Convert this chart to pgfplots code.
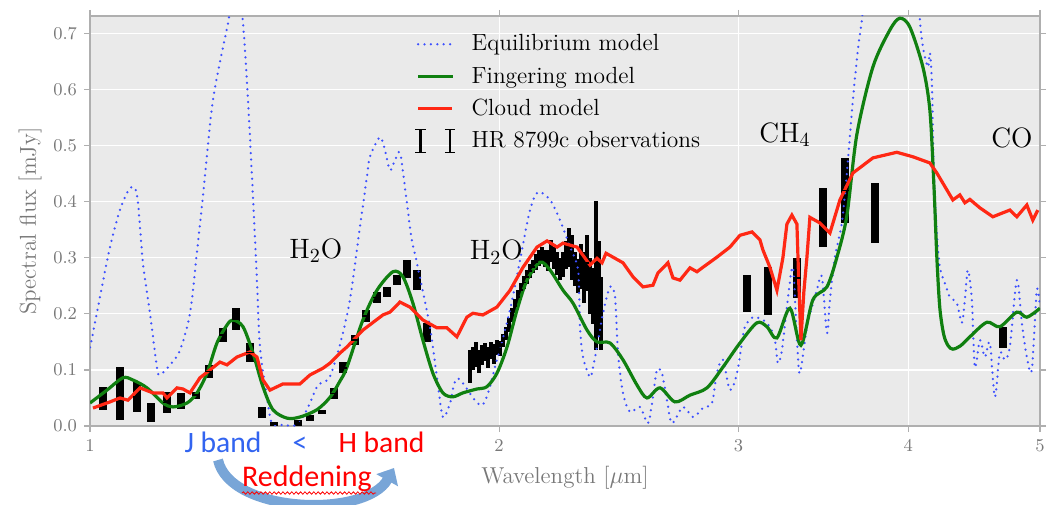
\documentclass[border=0pt]{standalone}
\usepackage{pgfplots}
\pgfplotsset{compat=1.18}
\usepackage{pgfplotstable}
\usepackage{fontspec}
\newfontfamily\calibri{Carlito}
\usetikzlibrary{arrows.meta,decorations.pathmorphing}

\definecolor{eqblue}{RGB}{60,80,255}
\definecolor{fgreen}{RGB}{16,128,16}
\definecolor{cred}{RGB}{255,40,20}
\definecolor{bgray}{RGB}{234,234,234}
\definecolor{labgray}{RGB}{120,120,120}
\definecolor{linegray}{RGB}{175,175,175}
\definecolor{jblue}{RGB}{50,100,240}
\definecolor{arrowblue}{RGB}{120,165,215}

\pgfplotstableread{
x y
1.000 0.041
1.0292 0.064
1.0575 0.086
1.0755 0.082
1.1014 0.068
1.1316 0.041
1.1509 0.034
1.1786 0.041
1.1987 0.059
1.2192 0.094
1.2400 0.148
1.2612 0.180
1.2741 0.189
1.2959 0.177
1.3180 0.130
1.3405 0.070
1.3634 0.029
1.3962 0.014
1.4272 0.016
1.4689 0.029
1.5016 0.051
1.5273 0.080
1.5455 0.105
1.5879 0.189
1.6261 0.242
1.6708 0.275
1.6993 0.266
1.7283 0.219
1.7578 0.153
1.7879 0.094
1.8184 0.059
1.8495 0.052
1.8810 0.059
1.9262 0.066
1.9591 0.070
1.9926 0.094
2.0270 0.141
2.0616 0.207
2.0968 0.260
2.1435 0.292
2.1801 0.278
2.2286 0.242
2.2667 0.219
2.3211 0.171
2.3607 0.150
2.4132 0.148
2.4669 0.118
2.5261 0.073
2.5693 0.050
2.6264 0.068
2.6940 0.043
2.7633 0.055
2.8440 0.068
2.9221 0.105
3.0075 0.148
3.0954 0.184
3.1482 0.177
3.2021 0.157
3.2733 0.210
3.3349 0.144
3.4033 0.225
3.4850 0.248
3.5445 0.301
3.6050 0.375
3.6666 0.520
3.7673 0.640
3.8773 0.706
3.9435 0.727
4.0109 0.711
4.1001 0.640
4.1490 0.563
4.1773 0.430
4.1985 0.300
4.2198 0.210
4.2485 0.162
4.2800 0.143
4.3137 0.137
4.3700 0.143
4.4397 0.159
4.5694 0.185
4.6711 0.177
4.8076 0.203
4.8896 0.194
5.0 0.210
}\fingering

\pgfplotstableread{
x y
1.0051 0.032
1.0345 0.043
1.0521 0.050
1.0664 0.046
1.0884 0.068
1.1126 0.059
1.1316 0.059
1.1393 0.050
1.1588 0.068
1.1706 0.066
1.1846 0.059
1.2048 0.086
1.2254 0.100
1.2463 0.114
1.2612 0.109
1.2827 0.123
1.3113 0.132
1.3269 0.123
1.3405 0.082
1.3565 0.064
1.3867 0.075
1.4272 0.075
1.4516 0.091
1.4839 0.103
1.5016 0.112
1.5273 0.130
1.5455 0.141
1.5879 0.171
1.6426 0.198
1.6623 0.203
1.6907 0.221
1.7195 0.212
1.7578 0.189
1.8000 0.175
1.8308 0.175
1.8621 0.159
1.8938 0.194
1.9132 0.201
1.9459 0.198
1.9926 0.212
2.0373 0.242
2.0826 0.283
2.1326 0.319
2.1691 0.330
2.2061 0.319
2.2286 0.326
2.2821 0.319
2.3329 0.287
2.3607 0.299
2.3808 0.291
2.3970 0.308
2.4669 0.291
2.5090 0.266
2.5519 0.248
2.5954 0.251
2.6175 0.273
2.6622 0.291
2.6849 0.264
2.7169 0.260
2.7633 0.282
2.7963 0.275
2.8248 0.283
2.8926 0.301
2.9570 0.319
3.0075 0.340
3.0693 0.346
3.1111 0.332
3.1269 0.314
3.1643 0.283
3.2021 0.242
3.2347 0.300
3.2567 0.360
3.2844 0.376
3.3124 0.360
3.3234 0.250
3.3349 0.153
3.3518 0.240
3.3689 0.300
3.3861 0.372
3.4439 0.362
3.5027 0.344
3.5625 0.403
3.6418 0.451
3.7673 0.478
3.9236 0.488
4.0313 0.480
4.1490 0.469
4.1985 0.451
4.2413 0.433
4.3137 0.403
4.3652 0.412
4.4024 0.398
4.4400 0.404
4.5155 0.389
4.6161 0.373
4.7509 0.385
4.8076 0.373
4.8896 0.394
4.9395 0.367
4.9815 0.385
}\cloud

\pgfplotstableread{
x y
1.000 0.140
1.0051 0.166
1.0171 0.230
1.0345 0.319
1.0521 0.385
1.0701 0.424
1.0829 0.412
1.0939 0.291
1.1070 0.201
1.1202 0.105
1.1259 0.091
1.1451 0.109
1.1647 0.135
1.1846 0.201
1.1987 0.310
1.2109 0.410
1.2316 0.581
1.2633 0.718
1.2806 0.800
1.2959 0.718
1.3069 0.581
1.3180 0.408
1.3269 0.260
1.3337 0.141
1.3496 0.052
1.3611 0.005
1.3867 0.002
1.4199 0.002
1.4442 0.029
1.4689 0.070
1.4839 0.078
1.5016 0.088
1.5273 0.145
1.5534 0.225
1.5799 0.355
1.5988 0.444
1.6069 0.480
1.6343 0.515
1.6482 0.492
1.6623 0.456
1.6764 0.474
1.6907 0.487
1.7051 0.426
1.7253 0.330
1.7400 0.291
1.7788 0.177
1.8000 0.087
1.8184 0.016
1.8401 0.040
1.8652 0.085
1.9426 0.037
1.9926 0.118
2.0373 0.207
2.0721 0.296
2.1075 0.385
2.1362 0.417
2.1801 0.403
2.2173 0.367
2.2552 0.319
2.2860 0.278
2.2937 0.177
2.3054 0.123
2.3329 0.087
2.3448 0.105
2.3607 0.141
2.3848 0.201
2.4132 0.248
2.4337 0.230
2.4461 0.130
2.4669 0.059
2.4963 0.025
2.5390 0.034
2.5736 0.005
2.5954 0.052
2.6131 0.100
2.6353 0.094
2.6577 0.046
2.6804 0.005
2.7307 0.034
2.7774 0.016
2.8248 0.032
2.8682 0.041
2.8926 0.094
2.9221 0.118
2.9570 0.064
2.9923 0.094
3.0177 0.148
3.0331 0.177
3.0745 0.194
3.1269 0.189
3.1643 0.177
3.1912 0.153
3.2075 0.112
3.2292 0.135
3.2567 0.212
3.2900 0.283
3.3124 0.153
3.3292 0.094
3.3689 0.177
3.3976 0.212
3.4265 0.242
3.4556 0.266
3.4850 0.166
3.5027 0.225
3.5325 0.301
3.5746 0.362
3.6050 0.451
3.6418 0.581
3.6728 0.670
3.6978 0.725
3.7482 0.850
3.9103 0.900
4.0450 0.850
4.0793 0.724
4.1001 0.676
4.1349 0.640
4.1490 0.665
4.1631 0.611
4.1773 0.450
4.1985 0.344
4.2198 0.283
4.2557 0.255
4.2919 0.230
4.3431 0.219
4.3800 0.184
4.4024 0.225
4.4247 0.278
4.4548 0.225
4.4775 0.105
4.5155 0.153
4.5539 0.123
4.5927 0.148
4.6318 0.052
4.6711 0.130
4.7109 0.118
4.7509 0.141
4.8076 0.260
4.8484 0.184
4.8896 0.123
4.9312 0.100
4.9731 0.242
5.0 0.212
}\equilibrium

\pgfplotstableread{
x y e
1.0223 0.049 0.021
1.0521 0.058 0.047
1.0829 0.052 0.027
1.1089 0.024 0.017
1.1393 0.042 0.019
1.1667 0.045 0.014
1.1967 0.055 0.006
1.2233 0.097 0.012
1.2526 0.162 0.013
1.2806 0.191 0.020
1.3113 0.131 0.017
1.3382 0.024 0.010
1.3657 0.004 0.004
1.4223 0.005 0.005
1.4516 0.014 0.005
1.4814 0.025 0.004
1.5118 0.058 0.009
1.5351 0.104 0.010
1.5666 0.153 0.009
1.5961 0.196 0.011
1.6261 0.229 0.010
1.6538 0.239 0.009
1.6821 0.260 0.009
1.7109 0.280 0.016
1.7400 0.260 0.018
1.7698 0.167 0.017
3.0434 0.236 0.033
3.1535 0.241 0.043
3.3124 0.264 0.036
3.4614 0.372 0.053
3.5928 0.420 0.058
3.7801 0.380 0.053
4.6949 0.158 0.019
}\obsbroad

\pgfplotstableread{
x y e
1.9035 0.106 0.029
1.9132 0.120 0.020
1.9230 0.128 0.022
1.9327 0.115 0.020
1.9426 0.127 0.018
1.9525 0.132 0.016
1.9624 0.122 0.018
1.9724 0.134 0.015
1.9825 0.128 0.018
1.9926 0.140 0.014
2.0031 0.138 0.014
2.0133 0.152 0.012
2.0236 0.165 0.012
2.0338 0.180 0.012
2.0442 0.198 0.012
2.0546 0.214 0.012
2.0651 0.230 0.012
2.0756 0.243 0.012
2.0862 0.256 0.012
2.0968 0.266 0.012
2.1075 0.276 0.012
2.1182 0.284 0.012
2.1291 0.293 0.014
2.1398 0.300 0.014
2.1508 0.305 0.015
2.1617 0.298 0.015
2.1727 0.295 0.018
2.1838 0.312 0.020
2.1949 0.300 0.020
2.2061 0.290 0.020
2.2173 0.280 0.020
2.2286 0.288 0.022
2.2400 0.305 0.025
2.2513 0.318 0.035
2.2629 0.300 0.040
2.2744 0.280 0.030
2.2860 0.268 0.030
2.2976 0.285 0.040
2.3093 0.265 0.045
2.3211 0.290 0.050
2.3329 0.250 0.050
2.3448 0.232 0.050
2.3568 0.268 0.133
2.3687 0.245 0.085
2.3767 0.200 0.065
}\obsdense

\begin{document}
\begin{tikzpicture}
\useasboundingbox (-45pt,-39pt) rectangle (481.5pt,213pt);
\begin{axis}[
  at={(0pt,0pt)}, anchor=south west,
  width=475pt, height=205pt, scale only axis,
  xmode=log, xmin=1, xmax=5, ymin=0, ymax=0.731,
  xtick={1,2,3,4,5}, xticklabels={1,2,3,4,5},
  xminorticks=false,
  ytick={0,0.1,0.2,0.3,0.4,0.5,0.6,0.7},
  yticklabels={0.0,0.1,0.2,0.3,0.4,0.5,0.6,0.7},
  tick label style={font=\fontsize{9}{10}\selectfont, text=labgray},
  axis background/.style={fill=bgray},
  grid=major, grid style={white, line width=0.6pt},
  axis line style={draw=linegray, line width=0.8pt},
  tick style={draw=linegray, line width=0.6pt},
  tick align=outside, major tick length=3pt,
  every axis y label/.style={at={(axis description cs:-0.063,0.5)}, rotate=90, anchor=center},
  every axis x label/.style={at={(axis description cs:0.5,-0.127)}, anchor=center},
  label style={font=\fontsize{11.5}{13}\selectfont, text=labgray},
  xlabel={Wavelength [$\mu$m]},
  ylabel={Spectral flux [mJy]},
  legend style={at={(0.335,0.975)}, anchor=north west, draw=none, fill=none,
    font=\fontsize{11.7}{13}\selectfont, row sep=2.5pt, column sep=6pt},
  legend cell align=left,
]
\addplot[forget plot, only marks, mark=-, mark size=1.9pt, mark options={black, line width=0.9pt},
  error bars/.cd, y dir=both, y explicit, error mark=none,
  error bar style={black, line width=3.8pt}]
  table[x=x, y=y, y error=e] {\obsbroad};
\addplot[forget plot, only marks, mark=-, mark size=1.1pt, mark options={black, line width=0.9pt},
  error bars/.cd, y dir=both, y explicit, error mark=none,
  error bar style={black, line width=2.2pt}]
  table[x=x, y=y, y error=e] {\obsdense};

\addplot[eqblue, line width=1.25pt, line cap=round, dash pattern=on 0pt off 3.2pt, smooth, tension=0.5]
  table[x=x, y=y] {\equilibrium};
\addlegendentry{Equilibrium model}
\addplot[fgreen, line width=1.6pt, smooth, tension=0.5]
  table[x=x, y=y] {\fingering};
\addlegendentry{Fingering model}
\addplot[cred, line width=1.6pt]
  table[x=x, y=y] {\cloud};
\addlegendentry{Cloud model}
\addlegendimage{legend image code/.code={
  \draw[black, line width=1.4pt] (0.04cm,-0.2cm) -- (0.04cm,0.2cm);
  \draw[black, line width=0.6pt] (-0.05cm,-0.2cm) -- (0.13cm,-0.2cm) (-0.05cm,0.2cm) -- (0.13cm,0.2cm);
  \draw[black, line width=1.4pt] (0.56cm,-0.2cm) -- (0.56cm,0.2cm);
  \draw[black, line width=0.6pt] (0.47cm,-0.2cm) -- (0.65cm,-0.2cm) (0.47cm,0.2cm) -- (0.65cm,0.2cm);
}}
\addlegendentry{HR 8799c observations}

\node[font=\fontsize{14}{16}\selectfont, anchor=base] at (axis cs:1.466,0.299) {H$_2$O};
\node[font=\fontsize{14}{16}\selectfont, anchor=base] at (axis cs:1.991,0.296) {H$_2$O};
\node[font=\fontsize{14}{16}\selectfont, anchor=base] at (axis cs:3.246,0.506) {CH$_4$};
\node[font=\fontsize{14}{16}\selectfont, anchor=base] at (axis cs:4.767,0.497) {CO};
\end{axis}

\draw[arrowblue, line width=5pt, -{Triangle[length=7pt,width=12pt]}]
  (64pt,-17pt) .. controls (70pt,-44pt) and (138pt,-46pt) .. (152pt,-21pt);
\node[font=\calibri\fontsize{14.8}{16}\selectfont, text=jblue, anchor=base] at (66.5pt,-13pt) {J band};
\node[font=\calibri\fontsize{14.8}{16}\selectfont, text=jblue, anchor=base] at (105pt,-13pt) {<};
\node[font=\calibri\fontsize{14.8}{16}\selectfont, text=red, anchor=base] at (145.75pt,-13pt) {H band};
\node[font=\calibri\fontsize{15}{16}\selectfont, text=red, anchor=base] at (108.5pt,-30pt) {Reddening};
\draw[red, line width=0.4pt, decorate, decoration={snake, segment length=2.2pt, amplitude=0.6pt}]
  (76pt,-33.5pt) -- (143pt,-33.5pt);
\end{tikzpicture}
\end{document}
